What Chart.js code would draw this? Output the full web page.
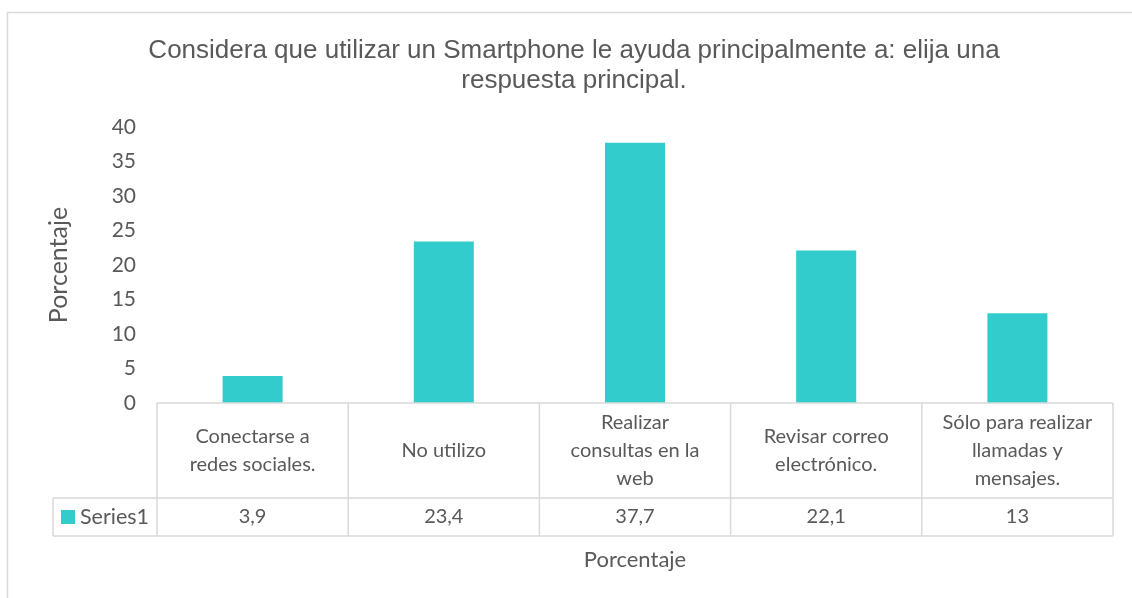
<!DOCTYPE html>
<html>
<head>
<meta charset="utf-8">
<script src="https://cdn.jsdelivr.net/npm/chart.js@4.4.0/dist/chart.umd.min.js"></script>
<style>
  html, body { margin: 0; padding: 0; background: #ffffff; }
  #wrap { width: 1132px; height: 598px; position: relative; }
</style>
</head>
<body>
<div id="wrap"><canvas id="chart"></canvas></div>
<script>
// Chart data
const titleLines = ['Considera que utilizar un Smartphone le ayuda principalmente a: elija una', 'respuesta principal.'];
const categories = [
    ['Conectarse a', 'redes sociales.'],
    ['No utilizo'],
    ['Realizar', 'consultas en la', 'web'],
    ['Revisar correo', 'electrónico.'],
    ['Sólo para realizar', 'llamadas y', 'mensajes.']
];
const seriesName = 'Series1';
const values = [3.9, 23.4, 37.7, 22.1, 13];
const yTicks = [0, 5, 10, 15, 20, 25, 30, 35, 40];
const axisTitle = 'Porcentaje';

const TEXT = '#595959';
const LINE = '#d9d9d9';
const BAR = '#33cccc';
const FONT = 'Lato';

// Title, outer border and the data table under the plot
const tablePlugin = {
    id: 'excelTable',
    afterDraw(chart) {
        const ctx = chart.ctx;
        const x = chart.scales.x;
        const area = chart.chartArea;
        const colW = (area.right - area.left) / categories.length;
        const top = area.bottom;
        const mid = top + 95;
        const bottom = mid + 38;
        const keyLeft = 53;

        ctx.save();
        // outer chart border (left and top only are visible)
        ctx.strokeStyle = LINE;
        ctx.lineWidth = 1.5;
        ctx.beginPath();
        ctx.moveTo(7.5, chart.height);
        ctx.lineTo(7.5, 12.5);
        ctx.lineTo(chart.width, 12.5);
        ctx.stroke();

        // title
        ctx.fillStyle = TEXT;
        ctx.font = '26px "Liberation Sans", Arial, sans-serif';
        ctx.textAlign = 'center';
        ctx.textBaseline = 'alphabetic';
        titleLines.forEach((t, i) => ctx.fillText(t, 574, 58 + i * 30));

        // table grid
        ctx.beginPath();
        ctx.moveTo(area.left, top); ctx.lineTo(area.right, top);
        ctx.moveTo(keyLeft, mid); ctx.lineTo(area.right, mid);
        ctx.moveTo(keyLeft, bottom); ctx.lineTo(area.right, bottom);
        ctx.moveTo(keyLeft, mid); ctx.lineTo(keyLeft, bottom);
        for (let i = 0; i <= categories.length; i++) {
            const lx = area.left + i * colW;
            ctx.moveTo(lx, top); ctx.lineTo(lx, bottom);
        }
        ctx.stroke();

        // category labels and values
        ctx.textBaseline = 'middle';
        ctx.font = '20px ' + FONT;
        categories.forEach((lines, i) => {
            const cx = x.getPixelForValue(i);
            const cy = (top + mid) / 2;
            const lh = 28;
            lines.forEach((l, j) => {
                ctx.fillText(l, cx, cy + (j - (lines.length - 1) / 2) * lh);
            });
            ctx.fillText(String(values[i]).replace('.', ','), cx, (mid + bottom) / 2);
        });

        // legend key
        ctx.fillStyle = BAR;
        ctx.fillRect(61, 510, 14, 14);
        ctx.fillStyle = TEXT;
        ctx.textAlign = 'left';
        ctx.font = '21.5px ' + FONT;
        ctx.fillText(seriesName, 80, (mid + bottom) / 2);

        // bottom axis title
        ctx.textAlign = 'center';
        ctx.font = '22px ' + FONT;
        ctx.fillText(axisTitle, (area.left + area.right) / 2, 560);
        ctx.restore();
    }
};

const ctx = document.getElementById('chart').getContext('2d');
new Chart(ctx, {
    type: 'bar',
    data: {
        labels: categories,
        datasets: [{
            label: seriesName,
            data: values,
            backgroundColor: BAR,
            barPercentage: 0.314,
            categoryPercentage: 1
        }]
    },
    options: {
        responsive: true,
        maintainAspectRatio: false,
        animation: false,
        layout: { padding: { top: 127, right: 19, bottom: 195, left: 0 } },
        scales: {
            x: { display: false },
            y: {
                min: 0,
                max: 40,
                afterFit: (scale) => { scale.width = 157; },
                afterBuildTicks: (scale) => { scale.ticks = yTicks.map(v => ({ value: v })); },
                ticks: {
                    color: TEXT,
                    font: { family: FONT, size: 21 },
                    padding: 21
                },
                grid: { display: false, drawTicks: false },
                border: { display: false },
                title: {
                    display: true,
                    text: axisTitle,
                    color: TEXT,
                    font: { family: FONT, size: 25 },
                    padding: { top: 44, bottom: 0 }
                }
            }
        },
        plugins: {
            legend: { display: false },
            title: { display: false },
            tooltip: { enabled: false }
        }
    },
    plugins: [tablePlugin]
});
</script>
</body>
</html>
